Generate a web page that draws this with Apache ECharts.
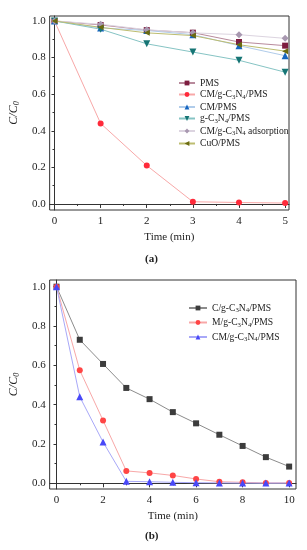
<!DOCTYPE html>
<html><head><meta charset="utf-8">
<script src="https://cdn.jsdelivr.net/npm/echarts@6/dist/echarts.min.js"></script>
<style>html,body{margin:0;padding:0;background:#fff}#c{width:307px;height:550px}</style>
</head><body><div id="c"></div>
<script>
// ---- data ----
const timeA = [0, 1, 2, 3, 4, 5];
const pmsA  = [1.0, 0.978, 0.950, 0.936, 0.885, 0.865];
const cmgA  = [1.0, 0.440, 0.210, 0.012, 0.008, 0.005];
const cmA   = [1.0, 0.962, 0.948, 0.925, 0.865, 0.810];
const gA    = [1.0, 0.955, 0.875, 0.830, 0.785, 0.720];
const adsA  = [1.0, 0.982, 0.952, 0.935, 0.925, 0.905];
const cuoA  = [1.0, 0.965, 0.935, 0.920, 0.870, 0.835];
const namesA = ['PMS', 'CM/g-C3N4/PMS', 'CM/PMS', 'g-C3N4/PMS', 'CM/g-C3N4 adsorption', 'CuO/PMS'];

const timeB = [0, 1, 2, 3, 4, 5, 6, 7, 8, 9, 10];
const cgB   = [1.0, 0.730, 0.607, 0.485, 0.428, 0.362, 0.305, 0.247, 0.190, 0.133, 0.085];
const mgB   = [1.0, 0.575, 0.320, 0.063, 0.053, 0.040, 0.022, 0.008, 0.005, 0.002, 0.002];
const cmgB  = [1.0, 0.440, 0.210, 0.010, 0.008, 0.005, 0.003, 0.002, 0.001, 0.001, 0.001];
// trailing space keeps the bottom series distinct from the same-named top series
const namesB = ['C/g-C3N4/PMS', 'M/g-C3N4/PMS', 'CM/g-C3N4/PMS '];

const xTicksA = [0, 1, 2, 3, 4, 5];
const xMinorA = [0.5, 1.5, 2.5, 3.5, 4.5];
const xTicksB = [0, 2, 4, 6, 8, 10];
const xMinorB = [1, 3, 5, 7, 9];
const yTicks  = [0, 0.2, 0.4, 0.6, 0.8, 1.0];
const yMinor  = [0.1, 0.3, 0.5, 0.7, 0.9];
const xTitle = 'Time (min)';
const captions = ['(a)', '(b)'];

// ---- styles ----
const FONT = 'Liberation Serif';
const AX = '#333';
const rich = {
  n: {fontFamily: FONT, fontSize: 9.6, color: '#222', lineHeight: 12, verticalAlign: 'middle'},
  s: {fontFamily: FONT, fontSize: 6.8, color: '#222', lineHeight: 12, verticalAlign: 'bottom', padding: [4, 0, 0, 0]}
};
function fmtName(name) {
  return name.trim().split(/(C3N4)/).map(p => p === 'C3N4' ? '{n|C}{s|3}{n|N}{s|4}' : (p ? '{n|' + p + '}' : '')).join('');
}

function pairs(xs, ys) { return xs.map((x, i) => [x, ys[i]]); }

const triDown = 'path://M0,0 L10,0 L5,9 Z';
const triLeft = 'path://M9,0 L9,10 L0,5 Z';

function line(name, xs, ys, sym, col, lineCol, grid, size) {
  return {
    name, type: 'line', xAxisIndex: grid * 2, yAxisIndex: grid * 2,
    data: pairs(xs, ys), symbol: sym, symbolSize: size || 6,
    itemStyle: {color: col}, lineStyle: {color: lineCol, width: 1},
    emphasis: {disabled: true}, animation: false
  };
}

function xAxes(grid, min, max, major, minor) {
  return [
    {type: 'value', gridIndex: grid, min, max, position: 'bottom',
     axisLine: {lineStyle: {color: AX, width: 1}}, splitLine: {show: false},
     axisTick: {show: true, inside: false, length: 4, customValues: major, lineStyle: {color: AX}},
     axisLabel: {customValues: major, fontFamily: FONT, fontSize: 11, color: '#222', margin: 6},
     name: xTitle, nameLocation: 'middle', nameGap: 22,
     nameTextStyle: {fontFamily: FONT, fontSize: 11, color: '#222'}},
    {type: 'value', gridIndex: grid, min, max, position: 'bottom',
     axisLine: {show: false}, splitLine: {show: false},
     axisTick: {show: true, inside: false, length: 2, customValues: minor, lineStyle: {color: AX}},
     axisLabel: {show: false}}
  ];
}
function yAxes(grid, min, max) {
  return [
    {type: 'value', gridIndex: grid, min, max, position: 'left',
     axisLine: {show: true, lineStyle: {color: AX, width: 1}}, splitLine: {show: false},
     axisTick: {show: true, inside: false, length: 3, customValues: yTicks, lineStyle: {color: AX}},
     axisLabel: {customValues: yTicks, formatter: v => v.toFixed(1), fontFamily: FONT, fontSize: 11, color: '#222', margin: 4},
     name: '{i|C}{i|/}{i|C}{b|0}', nameLocation: 'middle', nameGap: 17, nameRotate: 90,
     nameTextStyle: {rich: {
       i: {fontFamily: FONT, fontStyle: 'italic', fontSize: 12, color: '#222', lineHeight: 14, verticalAlign: 'middle'},
       b: {fontFamily: FONT, fontStyle: 'italic', fontSize: 8, color: '#222', lineHeight: 14, verticalAlign: 'bottom', padding: [5, 0, 0, 0]}
     }}},
    {type: 'value', gridIndex: grid, min, max, position: 'left',
     axisLine: {show: false}, splitLine: {show: false},
     axisTick: {show: true, inside: false, length: 2, customValues: yMinor, lineStyle: {color: AX}},
     axisLabel: {show: false}}
  ];
}

const chart = echarts.init(document.getElementById('c'), null, {renderer: 'canvas'});
chart.setOption({
  backgroundColor: '#fff',
  animation: false,
  grid: [
    {left: 43, top: 16, width: 246, height: 194, show: true, borderColor: AX, borderWidth: 1, backgroundColor: 'transparent'},
    {left: 45, top: 280, width: 251, height: 209, show: true, borderColor: AX, borderWidth: 1, backgroundColor: 'transparent'}
  ],
  xAxis: [...xAxes(0, -0.105, 5.084, xTicksA, xMinorA), ...xAxes(1, -0.295, 10.295, xTicksB, xMinorB)],
  yAxis: [...yAxes(0, -0.033, 1.027), ...yAxes(1, -0.029, 1.034)],
  legend: [
    {data: namesA, orient: 'vertical', left: 173, top: 73, itemGap: 1.5, itemWidth: 16, itemHeight: 6,
     formatter: fmtName, textStyle: {rich}, selectedMode: false},
    {data: namesB, orient: 'vertical', left: 183, top: 298, itemGap: 3.5, itemWidth: 18, itemHeight: 6,
     formatter: fmtName, textStyle: {rich}, selectedMode: false}
  ],
  graphic: [
    {type: 'text', left: 145, top: 254, style: {text: captions[0], font: 'bold 11px "Liberation Serif"', fill: '#222'}},
    {type: 'text', left: 145, top: 531, style: {text: captions[1], font: 'bold 11px "Liberation Serif"', fill: '#222'}}
  ],
  series: [
    line(namesA[0], timeA, pmsA, 'rect', '#7D1D3F', '#B88A9C', 0, 6),
    line(namesA[1], timeA, cmgA, 'circle', '#FF2A3A', '#F8A8A8', 0, 6),
    line(namesA[2], timeA, cmA, 'triangle', '#1565C0', '#B0CCEA', 0, 7),
    line(namesA[3], timeA, gA, triDown, '#167575', '#86C4C4', 0, 7),
    line(namesA[4], timeA, adsA, 'diamond', '#A898B0', '#DCD4E0', 0, 7),
    line(namesA[5], timeA, cuoA, triLeft, '#6B6B10', '#BDBD70', 0, 6),
    line(namesB[0], timeB, cgB, 'rect', '#3C3C3C', '#8C8C8C', 1, 6),
    line(namesB[1], timeB, mgB, 'circle', '#FF4545', '#F8A8A8', 1, 6),
    line(namesB[2], timeB, cmgB, 'triangle', '#4848F8', '#A8A8F8', 1, 7)
  ]
});
</script></body></html>
